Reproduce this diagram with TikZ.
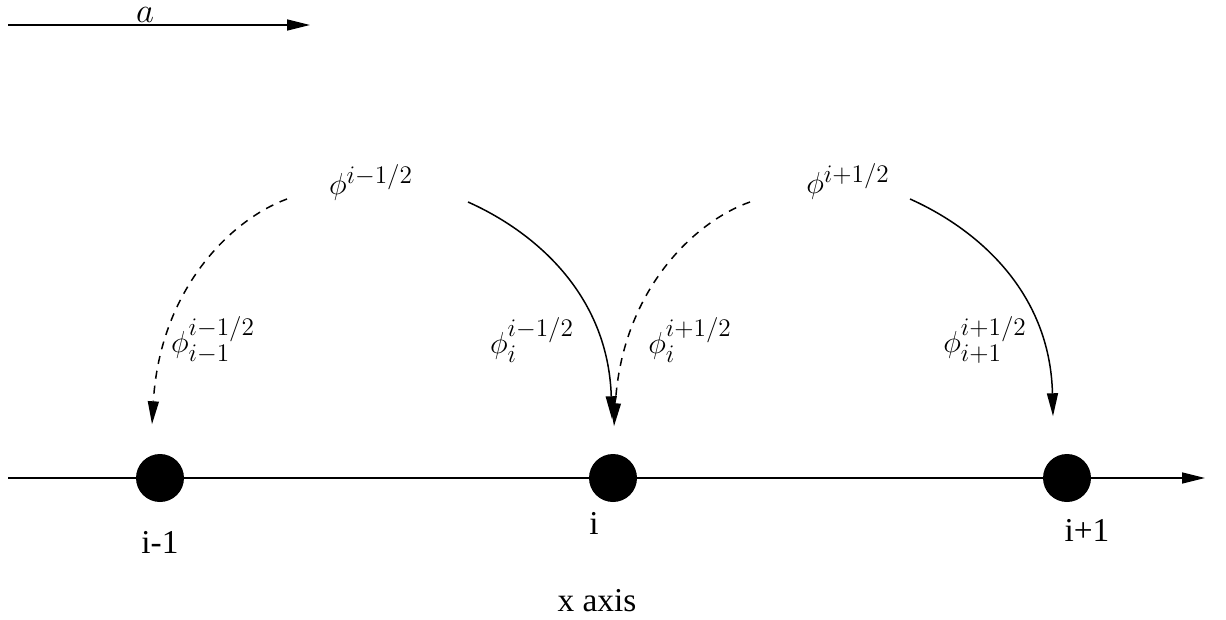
\documentclass[tikz,border=0pt]{standalone}
\usepackage{fontspec}
\setmainfont{Liberation Serif}
\usetikzlibrary{arrows.meta}

\begin{document}
\begin{tikzpicture}[x=0.02cm,y=-0.02cm,line width=.85pt,font=\fontsize{19}{22}\selectfont,
  tip/.style={-{Triangle[length=4.6mm,width=2.2mm]}},
  gridpt/.style={circle,fill,inner sep=0pt,minimum size=0.96cm},
  lbl/.style={inner sep=0pt},
  upwind/.style={tip,dash pattern=on 0.16cm off 0.14cm}]
\useasboundingbox (0,0) rectangle (1226,619);
% advection speed
\coordinate (a0) at (8,25);
\coordinate (a1) at (310,25);
\draw[tip] (a0) -- (a1);
\node[lbl,scale=1.15] (alab) at (145,15) {$a$};
% axis and grid points
\coordinate (x0) at (8,478);
\coordinate (x1) at (1205,478);
\draw[tip] (x0) -- (x1);
\node[gridpt] (pl) at (160,478) {};
\node[gridpt] (pc) at (613,478) {};
\node[gridpt] (pr) at (1067,478) {};
\node[lbl] (il) at (160,542) {i-1};
\node[lbl] (ic) at (594,523) {i};
\node[lbl] (ir) at (1087,530) {i+1};
\node[lbl] (xlab) at (597,601) {x axis};
% interface values
\node[lbl] (phl) at (371,182) {$\phi^{i-1/2}$};
\node[lbl] (phr) at (848,181) {$\phi^{i+1/2}$};
\node[lbl] (fll) at (213,340) {$\phi_{i-1}^{i-1/2}$};
\node[lbl] (flc) at (532,340) {$\phi_{i}^{i-1/2}$};
\node[lbl] (frc) at (690,340) {$\phi_{i}^{i+1/2}$};
\node[lbl] (frr) at (985,340) {$\phi_{i+1}^{i+1/2}$};
% arc ends
\coordinate (sA) at (287,199);
\coordinate (sB) at (468,202);
\coordinate (sC) at (750,202);
\coordinate (sD) at (910,199);
\coordinate (tA) at ([xshift=-0.16cm,yshift=0.58cm]pl.north);
\coordinate (tB) at ([xshift=-0.02cm,yshift=0.68cm]pc.north);
\coordinate (tC) at ([xshift=0.02cm,yshift=0.54cm]pc.north);
\coordinate (tD) at ([xshift=-0.28cm,yshift=0.74cm]pr.north);
\draw[upwind] (sA) .. controls (230,220) and (160,290) .. (tA);
\draw[tip] (sB) .. controls (533,231) and (608,293) .. (tB);
\draw[upwind] (sC) .. controls (693,222) and (622,292) .. (tC);
\draw[tip] (sD) .. controls (975,228) and (1050,290) .. (tD);
\end{tikzpicture}
\end{document}
